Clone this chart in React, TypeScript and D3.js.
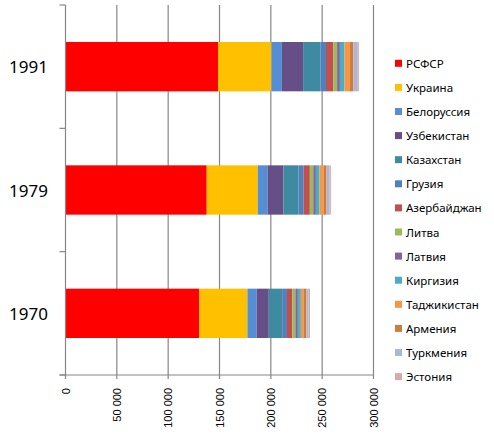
import React from "react";
import * as d3 from "d3";

const years = ["1991", "1979", "1970"];
const republics = [
  "РСФСР", "Украина", "Белоруссия", "Узбекистан", "Казахстан", "Грузия",
  "Азербайджан", "Литва", "Латвия", "Киргизия", "Таджикистан", "Армения",
  "Туркмения", "Эстония",
];
const colors = [
  "#FF0000", "#FFC000", "#558ED5", "#664F87", "#3E8AA0", "#4F81BD",
  "#C0504D", "#9BBB59", "#8064A2", "#4BACC6", "#F79646", "#CD7D3A",
  "#A9B8DA", "#DBA8A8",
];
const values1991 = [148543, 51944, 10260, 20708, 16793, 5464, 7137, 3728, 2681, 4422, 5358, 3376, 3714, 1583];
const values1979 = [137551, 49755, 9560, 15391, 14684, 5015, 6028, 3398, 2503, 3523, 3806, 3031, 2759, 1466];
const values1970 = [130079, 47126, 9002, 11800, 13009, 4686, 5117, 3128, 2364, 2933, 2900, 2492, 2159, 1356];
const xTicks = [0, 50000, 100000, 150000, 200000, 250000, 300000];

const seriesByYear: Record<string, number[]> = {
  "1991": values1991,
  "1979": values1979,
  "1970": values1970,
};

export default function App() {
  const W = 494, H = 439;
  const left = 65.5, right = 373.5, top = 5, bottom = 375;
  const x = d3.scaleLinear().domain([0, 300000]).range([left, right]);
  const y = d3.scaleBand<string>().domain(years).range([top, bottom]).paddingInner(0.6).paddingOuter(0.3);

  const rows = years.map((yr) => {
    const rec: any = { year: yr };
    republics.forEach((r, i) => (rec[r] = seriesByYear[yr][i]));
    return rec;
  });
  const stacked = d3.stack<any>().keys(republics)(rows);

  const fmt = (v: number) => d3.format(",")(v).replace(/,/g, " ");
  const gridColor = "#868686";
  const boundaries = [top, ...years.slice(1).map((yr) => y(yr)! - y.step() * y.paddingInner() / 2), bottom];

  return (
    <svg width={W} height={H} style={{ position: "absolute", left: 0, top: 0, background: "#fff" }}
      fontFamily="'Liberation Sans', Arial, sans-serif">
      {xTicks.slice(1).map((t) => (
        <line key={t} x1={x(t)} x2={x(t)} y1={top} y2={bottom} stroke={gridColor} strokeWidth={1.2} />
      ))}
      {stacked.map((s, i) => (
        <g key={s.key} fill={colors[i]}>
          {s.map((d, j) => (
            <rect key={j} x={x(d[0])} width={x(d[1]) - x(d[0])} y={y(years[j])} height={y.bandwidth()} />
          ))}
        </g>
      ))}
      <line x1={x(0)} x2={x(0)} y1={top} y2={bottom} stroke={gridColor} strokeWidth={1.2} />
      {boundaries.map((b, i) => (
        <line key={i} x1={x(0) - 6} x2={x(0)} y1={b} y2={b} stroke={gridColor} strokeWidth={1.2} />
      ))}
      <line x1={x(0) - 6} x2={right} y1={bottom} y2={bottom} stroke={gridColor} strokeWidth={1.2} />
      {xTicks.map((t) => (
        <g key={t}>
          <line x1={x(t)} x2={x(t)} y1={bottom} y2={bottom + 4} stroke={gridColor} strokeWidth={1.2} />
          <text transform={`translate(${x(t)},${bottom + 13}) rotate(-90)`} textAnchor="end" dominantBaseline="central"
            fontSize={11} fill="#000">{fmt(t)}</text>
        </g>
      ))}
      {years.map((yr) => (
        <text key={yr} x={48} y={y(yr)! + y.bandwidth() / 2} textAnchor="end" dominantBaseline="central"
          fontSize={17} fontFamily="'Noto Sans', sans-serif" fill="#000">{yr}</text>
      ))}
      {republics.map((r, i) => {
        const cy = 63.3 + i * 24.1;
        return (
          <g key={r}>
            <rect x={395} y={cy - 3.5} width={7} height={7} fill={colors[i]} />
            <text x={406} y={cy} dominantBaseline="central" fontSize={11.5} fontFamily="'Noto Sans', sans-serif"
              fill="#000">{r}</text>
          </g>
        );
      })}
    </svg>
  );
}
